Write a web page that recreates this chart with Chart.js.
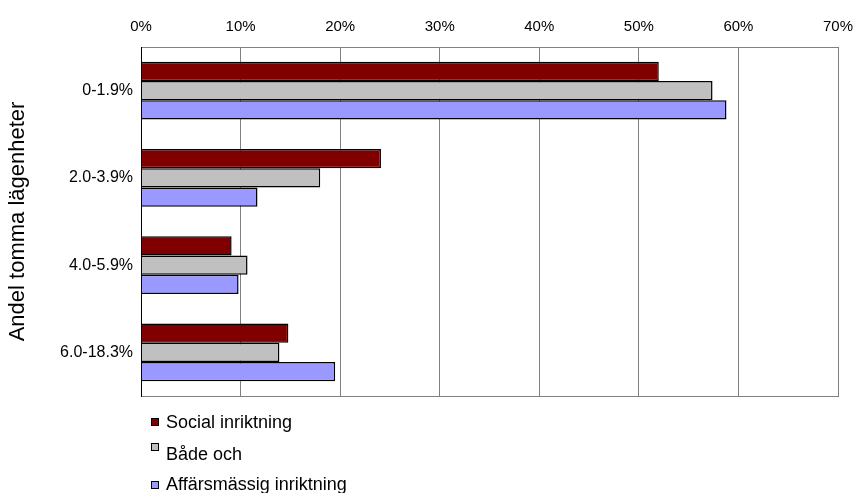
<!DOCTYPE html>
<html lang="sv">
<head>
<meta charset="UTF-8">
<title>Andel tomma lägenheter</title>
<script src="https://cdn.jsdelivr.net/npm/chart.js"></script>
<style>
  html, body { margin: 0; padding: 0; background: #fff; }
  #wrap { width: 854px; height: 493px; }
</style>
</head>
<body>
<div id="wrap"><canvas id="chart" width="854" height="493"></canvas></div>
<script>
// data (percent)
const categories = ['0-1.9%', '2.0-3.9%', '4.0-5.9%', '6.0-18.3%'];
const socialInriktning = [52.0, 24.1, 9.1, 14.8];
const badeOch = [57.4, 18.0, 10.7, 13.9];
const affarsInriktning = [58.8, 11.7, 9.8, 19.5];
const seriesNames = ['Social inriktning', 'Både och', 'Affärsmässig inriktning'];
const xTicks = [0, 10, 20, 30, 40, 50, 60, 70];

const FONT = '"Liberation Sans", Arial, sans-serif';

// frame round the plot area
const frame = {
    id: 'frame',
    afterDatasetsDraw(chart) {
        const a = chart.chartArea, ctx = chart.ctx;
        ctx.save();
        ctx.strokeStyle = '#808080';
        ctx.lineWidth = 1;
        ctx.strokeRect(a.left + 0.5, a.top + 0.5, a.right - a.left, a.bottom - a.top);
        ctx.strokeStyle = '#000';
        ctx.beginPath();
        ctx.moveTo(a.left + 0.5, a.top);
        ctx.lineTo(a.left + 0.5, a.bottom + 1);
        ctx.stroke();
        ctx.restore();
    }
};

// stacked legend under the plot, one entry per line
const rowBase = [428, 460, 490];
const boxTop = [418, 443, 481];
const listLegend = {
    id: 'listLegend',
    afterDraw(chart) {
        const ctx = chart.ctx;
        ctx.save();
        ctx.font = '18px ' + FONT;
        ctx.textBaseline = 'alphabetic';
        chart.data.datasets.forEach((ds, i) => {
            ctx.fillStyle = ds.backgroundColor;
            ctx.fillRect(151.5, boxTop[i] + 0.5, 7, 7);
            ctx.strokeStyle = '#000';
            ctx.lineWidth = 1;
            ctx.strokeRect(151.5, boxTop[i] + 0.5, 7, 7);
            ctx.fillStyle = '#000';
            ctx.fillText(ds.label, 166, rowBase[i]);
        });
        ctx.restore();
    }
};

const ctx = document.getElementById('chart').getContext('2d');
new Chart(ctx, {
    type: 'bar',
    data: {
        labels: categories,
        datasets: [
            { label: seriesNames[0], data: socialInriktning, backgroundColor: '#800000' },
            { label: seriesNames[1], data: badeOch, backgroundColor: '#C0C0C0' },
            { label: seriesNames[2], data: affarsInriktning, backgroundColor: '#9999FF' }
        ].map(d => Object.assign(d, {
            borderColor: '#000',
            borderWidth: 1.5,
            categoryPercentage: 0.66,
            barPercentage: 1
        }))
    },
    options: {
        indexAxis: 'y',
        responsive: false,
        animation: false,
        layout: { padding: { left: 0, right: 16, top: 0, bottom: 97 } },
        plugins: {
            legend: { display: false },
            tooltip: { enabled: false }
        },
        scales: {
            x: {
                position: 'top',
                min: 0,
                max: 70,
                afterFit(scale) {
                    scale.height = 47;
                    scale.paddingLeft = 0;
                    scale.paddingRight = 0;
                },
                afterBuildTicks(scale) { scale.ticks = xTicks.map(v => ({ value: v })); },
                grid: { color: '#808080', drawTicks: false },
                border: { display: false },
                ticks: {
                    padding: 11,
                    color: '#000',
                    font: { family: FONT, size: 15 },
                    callback: v => v + '%'
                }
            },
            y: {
                afterFit(scale) { scale.width = 141; },
                grid: { display: false, drawTicks: false },
                border: { display: false },
                ticks: {
                    padding: 8,
                    color: '#000',
                    font: { family: FONT, size: 16 }
                },
                title: {
                    display: true,
                    text: 'Andel tomma lägenheter',
                    color: '#000',
                    font: { family: FONT, size: 22 },
                    padding: { top: 5, bottom: 0 }
                }
            }
        }
    },
    plugins: [frame, listLegend]
});
</script>
</body>
</html>
